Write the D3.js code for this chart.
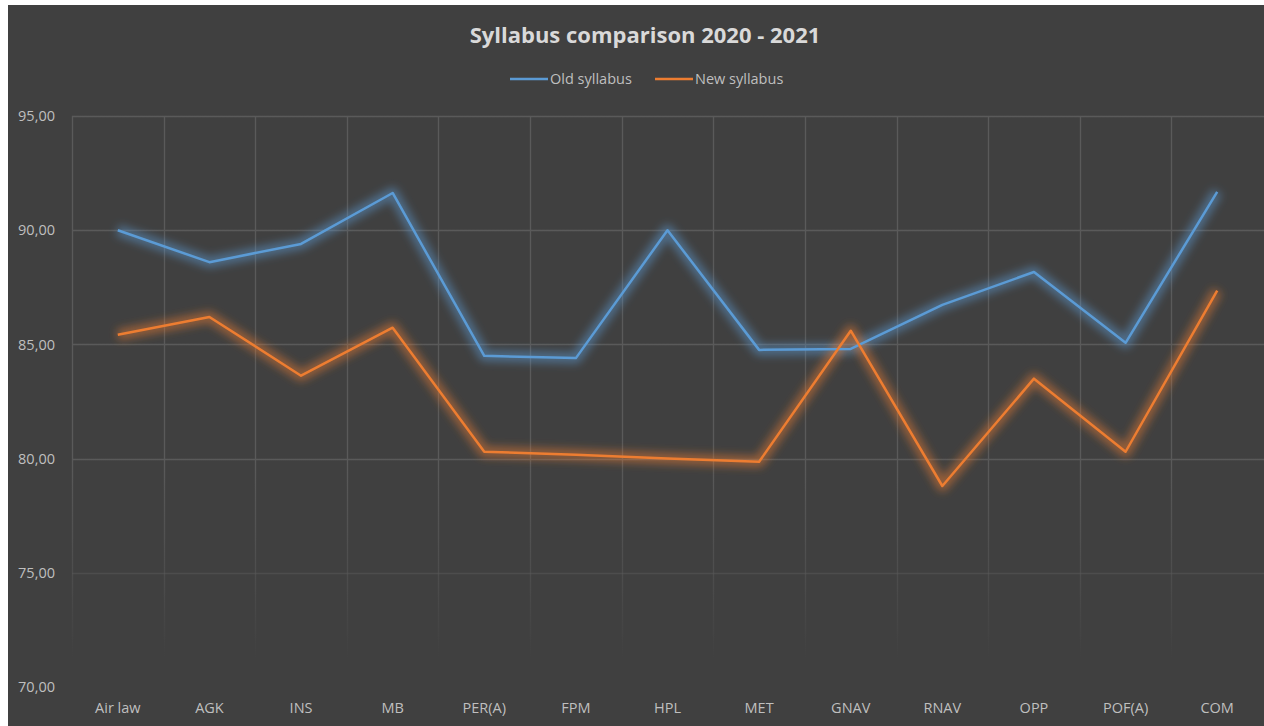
<!DOCTYPE html>
<html><head><meta charset="utf-8">
<script src="https://cdn.jsdelivr.net/npm/d3@7"></script>
<style>
html,body{margin:0;padding:0;background:#ffffff;}
svg{display:block;}
</style></head>
<body>
<svg id="c" width="1264" height="726"></svg>
<script>
const categories = ["Air law","AGK","INS","MB","PER(A)","FPM","HPL","MET","GNAV","RNAV","OPP","POF(A)","COM"];
const oldSyllabus = [90.0, 88.6, 89.4, 91.63, 84.5, 84.4, 90.0, 84.76, 84.8, 86.73, 88.17, 85.07, 91.68];
const newSyllabus = [85.42, 86.2, 83.63, 85.73, 80.3, 80.17, 80.0, 79.86, 85.6, 78.8, 83.5, 80.3, 87.35];
const yTicks = [70, 75, 80, 85, 90, 95];
const seriesNames = ["Old syllabus", "New syllabus"];
const colors = ["#5b9bd5", "#ed7d31"];

(function () {
const svg = d3.select("#c");
const W = 1264, H = 726;
const font = "'Open Sans', 'Noto Sans', sans-serif";

svg.append("rect").attr("x", 8).attr("y", 5).attr("width", W - 8).attr("height", H - 5).attr("fill", "#404040");

const pL = 72, pR = 1263, pT = 116, pB = 687;
const x = d3.scaleBand().domain(categories).range([pL, pR]).padding(0);
const y = d3.scaleLinear().domain([70, 95]).range([pB, pT]);

const defs = svg.append("defs");
const grad = defs.append("linearGradient").attr("id", "gridFade")
  .attr("gradientUnits", "userSpaceOnUse").attr("x1", 0).attr("y1", pT).attr("x2", 0).attr("y2", pB);
grad.append("stop").attr("offset", "0").attr("stop-color", "#5a5a5a").attr("stop-opacity", 1);
grad.append("stop").attr("offset", "0.6").attr("stop-color", "#5a5a5a").attr("stop-opacity", 1);
grad.append("stop").attr("offset", "0.8").attr("stop-color", "#5a5a5a").attr("stop-opacity", 0.5);
grad.append("stop").attr("offset", "0.95").attr("stop-color", "#5a5a5a").attr("stop-opacity", 0);

colors.forEach((c, i) => {
  const f = defs.append("filter").attr("id", "glow" + i).attr("x", "-10%").attr("y", "-20%").attr("width", "120%").attr("height", "140%");
  f.append("feGaussianBlur").attr("in", "SourceGraphic").attr("stdDeviation", 4.5);
});

// grid
const g = svg.append("g");
g.selectAll(".hg").data(yTicks.filter(t => t > 70)).join("line")
  .attr("x1", pL).attr("x2", W).attr("y1", d => Math.round(y(d)) + 0.5).attr("y2", d => Math.round(y(d)) + 0.5)
  .attr("stroke", "url(#gridFade)").attr("stroke-width", 1.3);
g.selectAll(".vg").data(categories).join("line")
  .attr("x1", d => Math.round(x(d)) + 0.5).attr("x2", d => Math.round(x(d)) + 0.5)
  .attr("y1", pT).attr("y2", pB)
  .attr("stroke", "url(#gridFade)").attr("stroke-width", 1.3);

// y labels
const yAxis = d3.axisLeft(y).tickValues(yTicks).tickSize(0).tickPadding(0)
  .tickFormat(d => d3.format(".2f")(d).replace(".", ","));
const ya = svg.append("g").attr("transform", `translate(55,0)`).call(yAxis);
ya.select(".domain").remove();
ya.selectAll("text").attr("fill", "#bfbfbf").attr("font-family", font).attr("font-size", 14.5);

// x labels
const xAxis = d3.axisBottom(x).tickSize(0).tickPadding(0);
const xa = svg.append("g").attr("transform", `translate(0,${pB + 16})`).call(xAxis);
xa.select(".domain").remove();
xa.selectAll("text").attr("fill", "#bfbfbf").attr("font-family", font).attr("font-size", 14.5);

// lines
const line = d3.line().x((d, i) => x(categories[i]) + x.bandwidth() / 2).y(d => y(d));
[oldSyllabus, newSyllabus].forEach((s, i) => {
  svg.append("path").attr("d", line(s)).attr("fill", "none").attr("stroke", colors[i])
    .attr("stroke-width", 11).attr("stroke-opacity", 0.5).attr("stroke-linejoin", "round")
    .attr("filter", `url(#glow${i})`);
});
[oldSyllabus, newSyllabus].forEach((s, i) => {
  svg.append("path").attr("d", line(s)).attr("fill", "none").attr("stroke", colors[i])
    .attr("stroke-width", 2.5).attr("stroke-linejoin", "round");
});

// title
svg.append("text").attr("x", 645).attr("y", 43).attr("text-anchor", "middle")
  .attr("fill", "#d9d9d9").attr("font-family", font).attr("font-weight", "bold").attr("font-size", 22)
  .text("Syllabus comparison 2020 - 2021");

// legend
const legX = [510, 655];
seriesNames.forEach((n, i) => {
  svg.append("line").attr("x1", legX[i]).attr("x2", legX[i] + 38).attr("y1", 79).attr("y2", 79)
    .attr("stroke", colors[i]).attr("stroke-width", 2.5);
  svg.append("text").attr("x", legX[i] + 40).attr("y", 84).attr("fill", "#bfbfbf")
    .attr("font-family", font).attr("font-size", 14.5).text(n);
});
})();
</script>
</body></html>
